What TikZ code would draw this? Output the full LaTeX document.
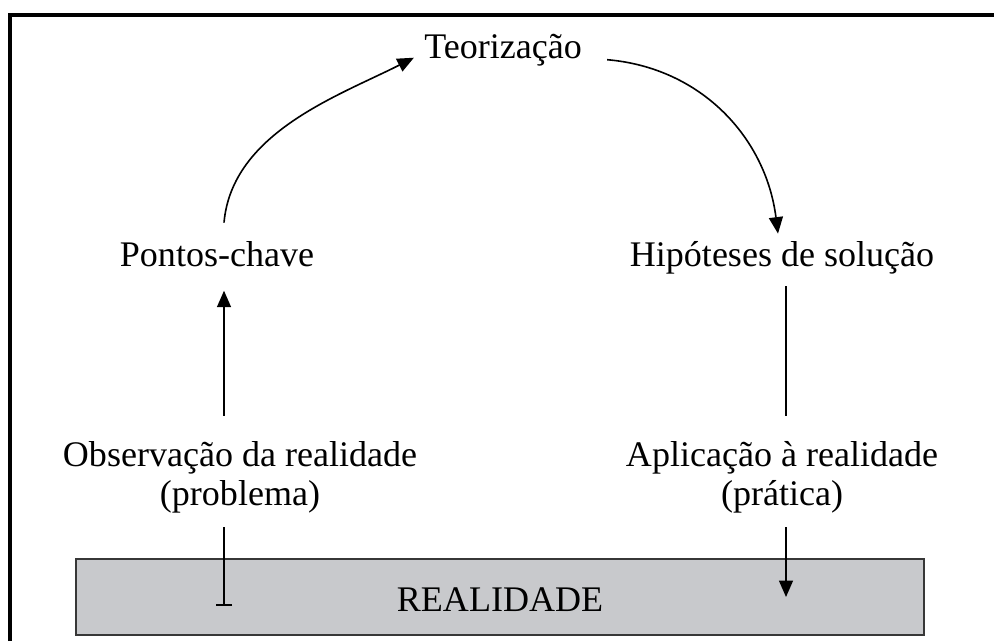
\documentclass[tikz,border=0pt]{standalone}
\usepackage{fontspec}
\setmainfont{Liberation Serif}
\usetikzlibrary{positioning,arrows.meta,calc}
\definecolor{boxgray}{RGB}{200,201,204}
\definecolor{boxline}{RGB}{55,55,55}

\begin{document}
\begin{tikzpicture}[
        x=0.2mm, y=-0.2mm,
        stage/.style={font=\fontsize{20.5}{22}\selectfont, align=center, inner sep=0pt},
        ground/.style={draw=boxline, fill=boxgray, line width=0.45mm, minimum width=169.6mm, minimum height=15.2mm, inner sep=0pt, text height=16pt, font=\fontsize{20.5}{22}\selectfont},
        flow/.style={-{Triangle[length=3.3mm,width=2.8mm]}, line width=0.32mm},
        link/.style={line width=0.32mm}
    ]
        \useasboundingbox (0,0) rectangle (994,641);
        \draw[line width=0.8mm] (10,641) -- (10,15) -- (994,15);

        \node[stage, anchor=base] (teo) at (503,58) {Teorização};
        \node[stage, anchor=base] (pontos) at (217,266) {Pontos-chave};
        \node[stage, anchor=base] (hip) at (782,266) {Hipóteses de solução};
        \node[stage] (obs) at (240,477) {Observação da realidade\\(problema)};
        \node[stage] (apl) at (782,477) {Aplicação à realidade\\(prática)};
        \node[ground] (real) at (500,597) {REALIDADE};

        \coordinate (lx) at (224,0);
        \coordinate (rx) at (786,0);
        \coordinate (lend) at (224,606);
        \coordinate (rend) at (786,597);

        \draw[flow] ($(lx |- pontos.north)+(0,-18)$) .. controls +(8,-90) and +(-75,38) .. ($(teo.west)+(-10,8)$);
        \draw[flow] ($(teo.east)+(25,10)$) .. controls +(95,8) and +(-12,-95) .. ($(hip.north)+(-4,-7)$);
        \draw[flow] ($(lx |- obs.north)+(0,-25)$) -- ($(lx |- pontos.south)+(0,24)$);
        \draw[link] ($(rx |- hip.south)+(0,12)$) -- ($(rx |- apl.north)+(0,-25)$);
        \draw[link, -{Bar[width=3.2mm]}] ($(lx |- obs.south)+(0,14)$) -- (lend);
        \draw[flow] ($(rx |- apl.south)+(0,14)$) -- (rend);
    \end{tikzpicture}
\end{document}
